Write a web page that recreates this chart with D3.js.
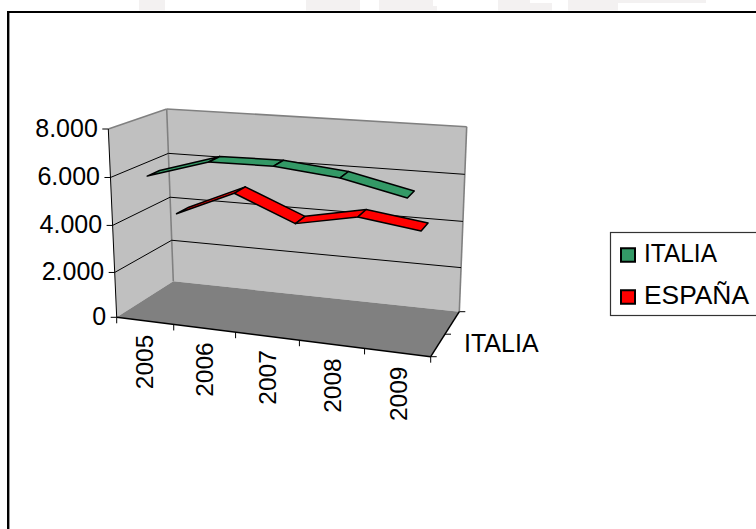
<!DOCTYPE html>
<html>
<head>
<meta charset="utf-8">
<script src="https://cdn.jsdelivr.net/npm/d3@7/dist/d3.min.js"></script>
<style>
html,body{margin:0;padding:0;background:#fff;}
svg{display:block;}
text{font-family:"Liberation Sans",Arial,sans-serif;fill:#000;}
</style>
</head>
<body>
<svg id="chart" width="756" height="529"></svg>
<script>
const years = ["2005","2006","2007","2008","2009"];
const seriesNames = ["ITALIA","ESPAÑA"];
const italia = [6010,6810,6860,6610,6040];
const espana = [3810,4930,3850,4370,4020];
const seriesValues = [italia, espana];
const seriesColors = ["#339966","#ff0000"];
const valueTicks = [0,2000,4000,6000,8000];
const tickLabels = ["0","2.000","4.000","6.000","8.000"];

// Corners of the 3D box as seen on screen (front/back, left/right, bottom/top).
const box = {
  flb:[116.7,317.3], flt:[108.3,129],
  frb:[430.7,356.7], frt:[439.5,155],
  blb:[173.3,281.3], blt:[166.7,109],
  brb:[459.3,311.7], brt:[466.7,126.7]
};

const svg = d3.select("#chart");

// Pale page-background blocks along the top edge
[[139,0,26,10.5],[306,0,54,10.5],[379,0,54,10.5],[433,6,4,4.5],[498,0,32,10.5],[530,3,22,7.5],[568,0,50,10.5],[618,0,88,3]]
  .forEach(b=>svg.append("rect").attr("x",b[0]).attr("y",b[1]).attr("width",b[2]).attr("height",b[3]).attr("fill","#f3f1f1"));

// Height on the box, slightly compressed toward the top by the perspective
const vScale = d3.scalePow().exponent(1.035).domain([0,8000]).range([0,1]);
const bandScale = d3.scaleBand().domain(years).range([0,1]);
const depthScale = d3.scaleBand().domain(seriesNames).range([0,1]);
// Foreshortening along the category axis: the far left is compressed.
const persp = d3.scalePow().exponent(1.06).domain([0,1]).range([0,1]);

function lerp(a,b,t){return [a[0]+(b[0]-a[0])*t,a[1]+(b[1]-a[1])*t];}
function project(u,v,w){
  const pu = persp(u);
  const fb = lerp(box.flb,box.frb,pu), ft = lerp(box.flt,box.frt,pu);
  const bb = lerp(box.blb,box.brb,pu), bt = lerp(box.blt,box.brt,pu);
  return lerp(lerp(fb,ft,v),lerp(bb,bt,v),w);
}
const poly = d3.line();

// Back wall and side wall
svg.append("path").attr("d",poly([box.blb,box.blt,box.brt,box.brb])+"Z").attr("fill","#c0c0c0");
svg.append("path").attr("d",poly([box.flb,box.flt,box.blt,box.blb])+"Z").attr("fill","#c0c0c0");
// Floor
svg.append("path").attr("d",poly([box.flb,box.frb,box.brb,box.blb])+"Z").attr("fill","#808080");

// Grey wall edges
[[box.flt,box.blt],[box.blt,box.brt],[box.brt,box.brb],[box.blt,box.blb]].forEach(d=>{
  svg.append("path").attr("d",poly(d)).attr("fill","none").attr("stroke","#808080").attr("stroke-width",1.6);
});

// Gridlines across the side and back walls
valueTicks.slice(1,-1).forEach(t=>{
  const v = vScale(t);
  svg.append("path")
    .attr("d",poly([project(0,v,0),project(0,v,1),project(1,v,1)]))
    .attr("fill","none").attr("stroke","#000").attr("stroke-width",1);
});

// Ribbons, far series first
[1,0].forEach(si=>{
  const vals = seriesValues[si];
  const c = depthScale(seriesNames[si]) + depthScale.bandwidth()/2 + 0.012;
  const half = 0.112;
  const g = svg.append("g");
  for(let i=0;i<years.length-1;i++){
    const u0 = bandScale(years[i])+bandScale.bandwidth()/2;
    const u1 = bandScale(years[i+1])+bandScale.bandwidth()/2;
    const v0 = vScale(vals[i]), v1 = vScale(vals[i+1]);
    g.append("path")
      .attr("d",poly([project(u0,v0,c-half),project(u0,v0,c+half),project(u1,v1,c+half),project(u1,v1,c-half)])+"Z")
      .attr("fill",seriesColors[si]).attr("stroke","#000").attr("stroke-width",1.5).attr("stroke-linejoin","round");
  }
});

// Value axis
svg.append("path").attr("d",poly([box.flb,box.flt])).attr("stroke","#000").attr("stroke-width",1).attr("fill","none");
valueTicks.forEach((t,i)=>{
  const p = project(0,vScale(t),0);
  svg.append("line").attr("x1",p[0]-6).attr("x2",p[0]).attr("y1",p[1]).attr("y2",p[1]).attr("stroke","#000");
  svg.append("text").attr("x",p[0]-10.5).attr("y",p[1]+8).attr("text-anchor","end").attr("font-size",25).text(tickLabels[i]);
});

// Category axis along the front of the floor
svg.append("path").attr("d",poly([box.flb,box.frb])).attr("stroke","#000").attr("stroke-width",1.5).attr("fill","none");
bandScale.domain().forEach(y=>{
  const p = project(bandScale(y),0,0);
  svg.append("line").attr("x1",p[0]).attr("x2",p[0]).attr("y1",p[1]).attr("y2",p[1]+6).attr("stroke","#000");
  const c = project(bandScale(y)+bandScale.bandwidth()/2,0,0);
  svg.append("text").attr("transform",`translate(${c[0]+9},${c[1]+14}) rotate(-90)`)
    .attr("text-anchor","end").attr("font-size",24.5).text(y);
});
{
  const p = project(1,0,0);
  svg.append("line").attr("x1",p[0]).attr("x2",p[0]).attr("y1",p[1]).attr("y2",p[1]+6).attr("stroke","#000");
}

// Depth axis on the right edge of the floor
svg.append("path").attr("d",poly([box.frb,box.brb])).attr("stroke","#000").attr("stroke-width",1.5).attr("fill","none");
[0,0.5,1].forEach(w=>{
  const p = project(1,0,w);
  svg.append("line").attr("x1",p[0]).attr("x2",p[0]+6).attr("y1",p[1]).attr("y2",p[1]).attr("stroke","#000");
});
svg.append("text").attr("x",464).attr("y",352).attr("font-size",25).text(seriesNames[0]);

// Legend, open on the right where the chart is clipped
svg.append("rect").attr("x",610.5).attr("y",232.5).attr("width",160).attr("height",83).attr("fill","#fff").attr("stroke","#333").attr("stroke-width",1.2);
const legendWidths = [73,105];
seriesNames.forEach((n,i)=>{
  const cy = 255 + i*42;
  svg.append("rect").attr("x",621).attr("y",cy-6.75).attr("width",14).attr("height",13.5)
    .attr("fill",seriesColors[i]).attr("stroke","#000").attr("stroke-width",2);
  svg.append("text").attr("x",644).attr("y",cy+7).attr("font-size",25)
    .attr("textLength",legendWidths[i]).attr("lengthAdjust","spacingAndGlyphs").text(n);
});

// Outer chart frame with its soft inner shadow
svg.append("path").attr("d","M9.5,529V13").attr("fill","none").attr("stroke","#999").attr("stroke-width",1);
svg.append("path").attr("d","M8,529V12H756").attr("fill","none").attr("stroke","#000").attr("stroke-width",2);
</script>
</body>
</html>
